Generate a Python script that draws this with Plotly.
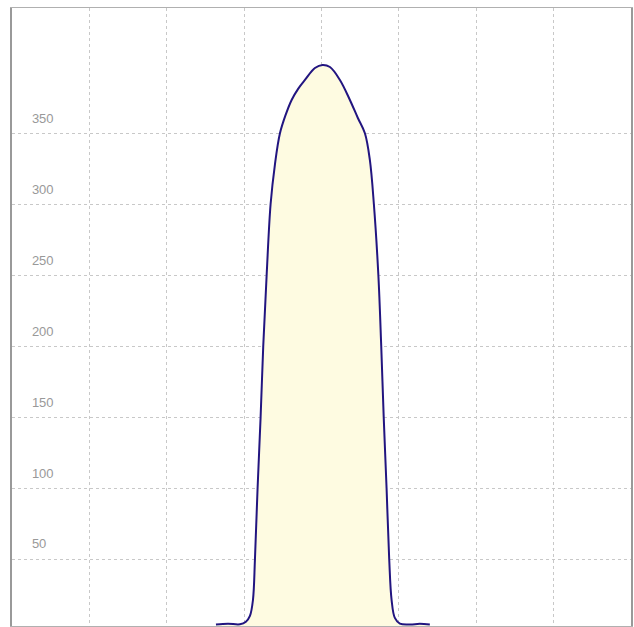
import plotly.graph_objects as go

# Curve (x in grid units, y in value units)
x_vals = [2.636, 2.791, 2.946, 3.023, 3.075, 3.114, 3.140, 3.174, 3.213,
          3.247, 3.291, 3.342, 3.398, 3.463, 3.540, 3.614, 3.700, 3.786, 3.915, 4.014,
          4.109, 4.238, 4.367, 4.470, 4.561, 4.625, 4.677, 4.735, 4.772, 4.804,
          4.841, 4.875, 4.906, 4.948, 5.013, 5.142, 5.270, 5.400]
y_vals = [3.9, 4.4, 4.0, 5.8, 9.9, 21.1, 50.0, 100.0, 150.0,
          200.0, 250.0, 300.0, 328.0, 350.0, 363.5, 373.5, 381.5, 387.6, 396.0, 398.2,
          396.7, 387.6, 373.5, 360.8, 350.0, 331.2, 300.0, 250.0, 200.0, 150.0,
          100.0, 50.0, 21.1, 8.5, 4.5, 3.9, 4.3, 3.9]

y_ticks = [50, 100, 150, 200, 250, 300, 350]
x_range = [0, 8]
y_range = [2.8, 438.3]

fig = go.Figure()
fig.add_trace(go.Scatter(
    x=x_vals, y=y_vals, mode="lines",
    line=dict(color="#221580", width=2, shape="spline", smoothing=1.0),
    fill="tozeroy", fillcolor="#fefbe1",
    hoverinfo="skip", showlegend=False,
))

grid = dict(showgrid=True, gridcolor="#c8c8c8", gridwidth=1, griddash="3px,3px",
            zeroline=False, showline=True, mirror=True, ticks="")

fig.update_layout(
    width=634, height=627,
    margin=dict(l=12, r=3, t=8, b=1),
    paper_bgcolor="white", plot_bgcolor="white",
    xaxis=dict(range=x_range, dtick=1, tick0=0, showticklabels=False,
               linecolor="#b0b0b0", linewidth=1, **grid),
    yaxis=dict(range=y_range, tickvals=y_ticks, ticktext=[str(v) for v in y_ticks],
               ticklabelposition="inside top", ticklabelstandoff=19, ticklabelshift=-6,
               tickfont=dict(family="Liberation Sans, Arial, sans-serif", size=13, color="#999999"),
               linecolor="#999999", linewidth=1.5, **grid),
)

fig.write_html("out.html", config={"displayModeBar": False},
               post_script="document.body.style.margin='0';document.body.style.overflow='hidden';")
